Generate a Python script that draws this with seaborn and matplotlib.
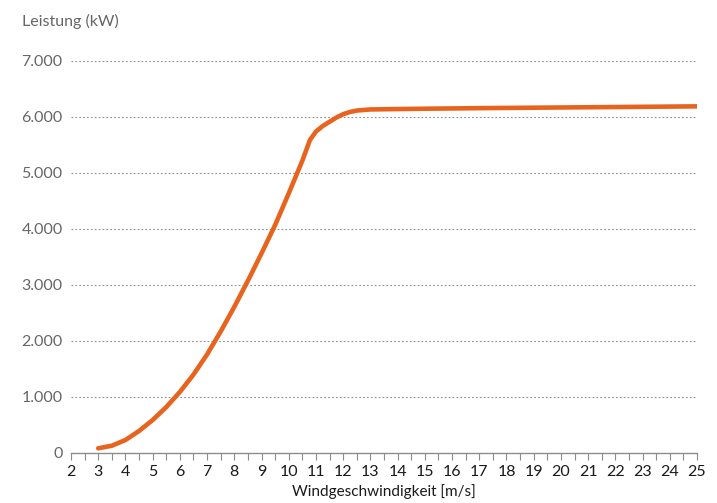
import seaborn as sns
import matplotlib.pyplot as plt
import pandas as pd
from matplotlib.ticker import FuncFormatter, MultipleLocator

# Leistungskurve
wind = [3, 3.5, 4, 4.5, 5, 5.5, 6, 6.5, 7, 7.5, 8, 8.5, 9, 9.5, 10, 10.5, 10.78,
        11, 11.25, 11.5, 11.75, 12, 12.25, 12.5, 13, 14, 15, 16, 17, 18, 19, 20,
        21, 22, 23, 24, 25]
leistung = [84, 130, 232, 393, 589, 820, 1090, 1400, 1760, 2170, 2610, 3077, 3565,
            4071, 4637, 5220, 5590, 5740, 5840, 5915, 5990, 6050, 6090, 6115, 6135,
            6142, 6148, 6153, 6158, 6162, 6166, 6170, 6174, 6178, 6182, 6186, 6190]
x_ticks = list(range(2, 26))
y_ticks = [0, 1000, 2000, 3000, 4000, 5000, 6000, 7000]

df = pd.DataFrame({"wind": wind, "leistung": leistung})

sns.set_style("white")
plt.rcParams['font.family'] = ['Lato', 'DejaVu Sans']

fig = plt.figure(figsize=(7.17, 5.03), dpi=100)
ax = fig.add_axes([71 / 717, 1 - 453 / 503, (697 - 71) / 717, (453 - 61) / 503])

sns.lineplot(data=df, x="wind", y="leistung", ax=ax, color='#E8641E', linewidth=3.3,
             solid_capstyle='round', solid_joinstyle='round', zorder=3)

ax.set_xlim(2, 25)
ax.set_ylim(0, 7000)
ax.set_xticks(x_ticks)
ax.xaxis.set_minor_locator(MultipleLocator(0.5))
ax.set_yticks(y_ticks)
ax.yaxis.set_major_formatter(FuncFormatter(lambda v, p: f"{v:,.0f}".replace(",", ".")))

for y in y_ticks[1:]:
    ax.axhline(y, color='#8c8c8c', linewidth=0.8, linestyle=(0, (1.5, 2)), zorder=1)

for s in ['top', 'right', 'left']:
    ax.spines[s].set_visible(False)
ax.spines['bottom'].set_color('#8c8c8c')
ax.spines['bottom'].set_linewidth(1)

ax.tick_params(axis='x', which='both', direction='out', length=5, width=0.8,
               color='#8c8c8c', bottom=True)
ax.tick_params(axis='x', which='major', labelsize=11.5, labelcolor='#1a1a1a', pad=4)
ax.tick_params(axis='y', length=0, labelsize=11.5, labelcolor='#666666', pad=6)

ax.set_xlabel("Windgeschwindigkeit [m/s]", fontsize=11, color='#1a1a1a', labelpad=3)
ax.set_ylabel("")
fig.text(22 / 717, 1 - 21 / 503, "Leistung (kW)", fontsize=11.5, color='#666666',
         va='center', ha='left')

fig.savefig("out.png", dpi=100, facecolor='white')
